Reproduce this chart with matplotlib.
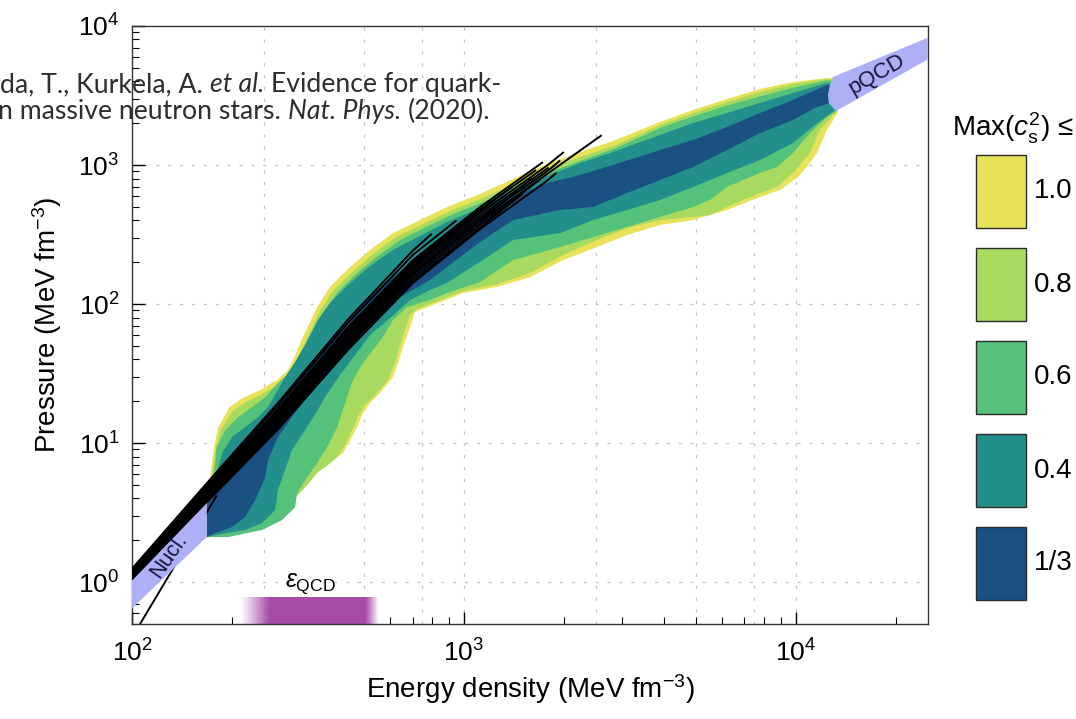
import numpy as np
import matplotlib
matplotlib.use("Agg")
import matplotlib.pyplot as plt
from matplotlib.patches import Rectangle
from matplotlib.colors import to_rgb
from matplotlib.ticker import LogLocator, NullFormatter

plt.rcParams['font.family'] = ['Liberation Sans', 'DejaVu Sans']
plt.rcParams['mathtext.fontset'] = 'custom'
plt.rcParams['mathtext.rm'] = 'Liberation Sans'
plt.rcParams['mathtext.it'] = 'Liberation Sans:italic'
plt.rcParams['mathtext.bf'] = 'Liberation Sans:bold'

# ---- band edges (energy density, pressure) ----
# Max(c_s^2) <= 1.0
yellow_up_eps = [168, 173, 177, 182, 197, 216, 243, 273, 295, 306, 327, 361, 395, 444, 521, 611, 737, 889,
                 1117, 1405, 1778, 2236, 2811, 3894, 4896, 6198, 7791, 9795, 12400, 13380]
yellow_up_p = [3.70, 6.39, 9.67, 13.0, 18.2, 21.1, 24.1, 28.4, 33.5, 39.6, 57.9, 95.1, 133, 176, 245, 324, 402, 499,
               619, 793, 1017, 1240, 1488, 2039, 2487, 2984, 3523, 3955, 4226, 4226]
yellow_lo_eps = [168, 180, 207, 238, 260, 279, 306, 321, 344, 368, 395, 432, 454, 476, 496, 521, 558, 611, 633, 655,
                 688, 712, 790, 993, 1257, 1581, 1987, 2516, 3097, 3894, 4896, 6198, 7791, 8947, 10070, 10790,
                 11570, 12400, 13380]
yellow_lo_p = [2.11, 2.29, 2.29, 2.49, 2.94, 3.14, 3.89, 4.59, 5.42, 6.39, 7.30, 8.48, 10.5, 13.0, 16.4, 19.4, 22.9,
               29.8, 37.6, 49.1, 68.3, 87.6, 96.7, 120, 133, 156, 207, 257, 314, 370, 402, 475, 589, 661, 806, 967,
               1220, 1786, 2406]

# Max(c_s^2) <= 0.8
lgreen_up_eps = [168, 175, 179, 185, 201, 220, 246, 277, 299, 312, 334, 368, 403, 454, 532, 624, 752, 908,
                 1141, 1434, 1816, 2283, 2870, 3894, 4896, 6198, 7791, 9795, 12400, 13380]
lgreen_up_p = [3.70, 6.39, 9.36, 12.4, 17.0, 19.7, 22.5, 26.6, 31.4, 38.3, 55.1, 89.0, 124, 164, 229, 303, 376, 467,
               579, 742, 952, 1161, 1393, 1940, 2366, 2840, 3352, 3825, 4157, 4088]
lgreen_lo_eps = [168, 180, 207, 238, 260, 279, 299, 316, 337, 363, 389, 415, 438, 460, 479, 503, 540, 590, 620, 642,
                 664, 688, 722, 790, 993, 1257, 1581, 1987, 2516, 3097, 3894, 4896, 5508, 6198, 6925, 7791, 8767,
                 9795, 11020, 11810, 13380]
lgreen_lo_p = [2.11, 2.29, 2.29, 2.49, 2.94, 3.14, 3.58, 4.23, 4.99, 6.18, 6.95, 7.93, 9.67, 12.4, 15.4, 18.8, 22.1,
               28.4, 37.6, 50.7, 65.0, 83.3, 92.0, 100, 124, 139, 167, 225, 289, 352, 402, 423, 437, 499, 560, 629,
               695, 876, 1220, 1786, 2487]

# Max(c_s^2) <= 0.6
green_up_eps = [168, 177, 180, 191, 209, 230, 252, 275, 299, 321, 344, 379, 417, 470, 551, 642, 768, 927,
                1165, 1434, 1816, 2283, 2870, 3894, 4896, 6198, 7791, 9795, 12400, 13380]
green_up_p = [3.58, 6.39, 9.36, 12.4, 15.4, 18.2, 21.4, 27.0, 32.4, 43.0, 57.9, 89.0, 122, 162, 222, 289, 358, 444,
              551, 695, 891, 1086, 1325, 1850, 2230, 2680, 3120, 3600, 4060, 4021]
green_lo_eps = [168, 195, 246, 283, 310, 314, 337, 361, 387, 415, 438, 463, 496, 532, 570, 611, 673, 790, 889, 1117,
                1405, 1946, 2447, 3097, 3894, 4896, 5508, 6198, 6925, 7791, 8767, 9795, 11020, 12400, 13380]
green_lo_p = [2.11, 2.11, 2.37, 2.79, 3.46, 4.37, 5.69, 7.18, 9.36, 13.0, 19.4, 28.4, 37.6, 46.7, 57.9, 76.7, 95.1,
              107, 120, 144, 207, 257, 303, 358, 423, 499, 560, 695, 780, 876, 967, 1220, 1699, 2215, 2487]

# Max(c_s^2) <= 0.4
teal_up_eps = [168, 182, 187, 200, 219, 240, 257, 275, 289, 310, 332, 363, 395, 444, 521, 611, 737, 889,
               1117, 1405, 1778, 2236, 2811, 3894, 4896, 6198, 7791, 9795, 12400, 13380]
teal_up_p = [3.58, 6.72, 8.48, 11.05, 13.0, 15.4, 18.2, 24.1, 29.8, 38.3, 50.7, 76.7, 102, 135, 188, 245, 309, 389,
             491, 639, 833, 1034, 1240, 1644, 2006, 2366, 2793, 3296, 3890, 3825]
teal_lo_eps = [168, 191, 219, 246, 270, 275, 289, 303, 332, 363, 381, 423, 470, 521, 599, 688, 790, 889, 1117, 1405,
               1946, 2447, 3097, 3894, 4896, 6198, 7791, 9795, 11410, 13380]
teal_lo_p = [2.11, 2.25, 2.37, 2.66, 3.30, 4.59, 6.39, 8.90, 12.4, 17.3, 21.4, 30.8, 43.0, 59.8, 79.3, 107, 126, 142,
             201, 289, 324, 402, 475, 560, 695, 876, 1086, 1440, 1940, 2571]

# Max(c_s^2) <= 1/3
blue_up_eps = [168, 184, 209, 240, 275, 332, 395, 486, 599, 737, 889, 1117, 1405, 1778, 2236, 2811, 3894, 4896,
               6198, 7791, 9795, 12400, 13380]
blue_up_p = [3.58, 5.42, 9.36, 13.5, 19.4, 33.5, 55.1, 98.4, 149, 225, 314, 437, 589, 742, 847, 1000, 1282, 1513,
             1877, 2366, 2935, 3763, 3701]
blue_lo_eps = [168, 178, 200, 219, 235, 252, 257, 275, 303, 332, 363, 381, 438, 521, 642, 790, 889, 1117, 1405, 1946,
               2447, 3097, 3894, 4896, 6198, 7791, 9795, 11410, 13380]
blue_lo_p = [2.11, 2.25, 2.49, 2.94, 3.89, 5.69, 7.55, 11.05, 15.4, 20.4, 27.0, 29.8, 43.0, 70.6, 112, 149, 185, 279,
             402, 475, 499, 629, 780, 967, 1282, 1699, 2107, 2571, 2935]

legend_labels = ['1.0', '0.8', '0.6', '0.4', '1/3']
band_colors = ['#e8e25a', '#a8da5f', '#55c17a', '#228f8a', '#1b5082']

# ---- individual equations of state (black curves) ----
eos_eps = [
    [100, 168, 279, 444, 702, 1117, 1778, 2600],
    [100, 168, 279, 444, 702, 1117, 1778, 2000],
    [100, 168, 279, 444, 702, 1117, 1778, 1950],
    [100, 168, 279, 444, 702, 1117, 1730],
    [100, 168, 279, 444, 702, 1117, 1600],
    [100, 168, 279, 444, 702, 1117, 1400],
    [100, 168, 279, 444, 702, 950],
    [100, 168, 279, 444, 702, 800],
    [100, 168, 279, 444, 702, 1117, 1500],
    [100, 168, 279, 444, 702, 1117, 1778, 1900],
    [100, 168, 279, 444, 702, 1117, 1800],
    [100, 168, 279, 444, 702, 1000],
    [100, 168, 279, 444, 702, 1117, 1700],
    [100, 168, 279, 444, 702, 1117, 1650],
    [100, 180],
]
eos_p = [
    [1.09, 4.05, 14.6, 52, 162, 390, 860, 1640],
    [1.16, 4.5, 16.6, 60, 186, 450, 990, 1240],
    [1.13, 4.3, 15.6, 56, 173, 412, 900, 1080],
    [1.21, 4.85, 18.2, 67, 207, 498, 1050],
    [1.11, 4.2, 15.2, 54, 167, 395, 800],
    [1.19, 4.65, 17.5, 64, 197, 465, 700],
    [1.23, 5.0, 19.3, 72, 226, 400],
    [1.25, 5.15, 20.2, 76, 243, 320],
    [1.05, 3.85, 13.6, 48, 148, 355, 620],
    [1.03, 3.75, 13.0, 46, 142, 345, 770, 880],
    [1.15, 4.4, 16.2, 58, 180, 430, 960],
    [1.17, 4.55, 17.0, 62, 190, 380],
    [1.07, 3.95, 14.0, 50, 155, 372, 790],
    [1.20, 4.75, 17.8, 65, 202, 480, 920],
    [0.40, 4.2],
]

# ---- nuclear-theory and pQCD bands ----
nucl_eps = [90, 168, 168, 90]
nucl_p = [0.79, 3.70, 2.11, 0.51]
pqcd_eps = [12920, 12660, 12490, 12570, 13200, 30000, 30000]
pqcd_p = [4296, 3763, 3190, 2793, 2446, 7350, 9880]

# energy-density range eps_QCD (faded edges, solid core)
eqcd_fade = (211, 551)
eqcd_solid = (257, 503)
eqcd_p = (0.5, 0.79)

grid_eps = [250, 500, 750, 1000, 2500, 5000, 7500, 10000]
grid_p = [1, 10, 100, 1000]

# ---------------------------------------------------------------
W, H = 1076, 719
fig = plt.figure(figsize=(W / 100, H / 100), dpi=100)
ax = fig.add_axes([132 / W, 1 - 624 / H, (928 - 132) / W, (624 - 26) / H])
ax.set_xscale('log')
ax.set_yscale('log')

for v in grid_eps:
    ax.axvline(v, color='#c4c4c4', lw=0.9, ls=(0, (2.5, 7)), zorder=0.5)
for v in grid_p:
    ax.axhline(v, color='#c4c4c4', lw=0.9, ls=(0, (2.5, 7)), zorder=0.5)

bands = [
    (yellow_up_eps, yellow_up_p, yellow_lo_eps, yellow_lo_p),
    (lgreen_up_eps, lgreen_up_p, lgreen_lo_eps, lgreen_lo_p),
    (green_up_eps, green_up_p, green_lo_eps, green_lo_p),
    (teal_up_eps, teal_up_p, teal_lo_eps, teal_lo_p),
    (blue_up_eps, blue_up_p, blue_lo_eps, blue_lo_p),
]
for i, (eu, pu, el, pl) in enumerate(bands):
    ax.fill(eu + el[::-1], pu + pl[::-1], color=band_colors[i], lw=0, zorder=1 + 0.1 * i)

for e, p in zip(eos_eps, eos_p):
    ax.plot(e, p, color='black', lw=1.4, zorder=3, solid_capstyle='butt')

ax.fill(nucl_eps, nucl_p, color='#aeb0f5', lw=0, zorder=4)
ax.fill(pqcd_eps, pqcd_p, color='#aeb0f5', lw=0, zorder=4)
ax.text(129, 1.55, 'Nucl.', rotation=55, ha='center', va='center', fontsize=15.5,
        color='#15153f', zorder=5, rotation_mode='anchor')
ax.text(17500, 4500, 'pQCD', rotation=30, ha='center', va='center', fontsize=16,
        color='#15153f', zorder=5, rotation_mode='anchor')

# eps_QCD bar
cols = np.linspace(eqcd_fade[0], eqcd_fade[1], 300)
alpha = np.minimum((cols - eqcd_fade[0]) / (eqcd_solid[0] - eqcd_fade[0]),
                   (eqcd_fade[1] - cols) / (eqcd_fade[1] - eqcd_solid[1]))
img = np.zeros((1, cols.size, 4))
img[..., :3] = to_rgb('#a64ca6')
img[..., 3] = np.clip(alpha, 0, 1)
ax.imshow(img, extent=(eqcd_fade[0], eqcd_fade[1], eqcd_p[0], eqcd_p[1]), aspect='auto',
          interpolation='bilinear', zorder=2)
ax.text(345, 0.97, r'$\varepsilon_{\rm QCD}$', ha='center', va='center', fontsize=18, zorder=5)

ax.set_xlim(100, 25000)
ax.set_ylim(0.5, 1e4)

for a in (ax.xaxis, ax.yaxis):
    a.set_major_locator(LogLocator(base=10, numticks=10))
    a.set_minor_locator(LogLocator(base=10, subs=np.arange(2, 10), numticks=30))
    a.set_minor_formatter(NullFormatter())
ax.tick_params(which='both', direction='in', top=False, right=False)
ax.tick_params(which='major', length=9, width=1.0, labelsize=19)
ax.tick_params(axis='x', which='major', pad=11)
ax.tick_params(axis='y', which='major', pad=9)
ax.tick_params(which='minor', length=5, width=0.8)
for s in ax.spines.values():
    s.set_linewidth(1.0)
    s.set_color('#333333')

ax.set_xlabel(r'Energy density (MeV fm$^{-3}$)', fontsize=20, labelpad=4)
ax.set_ylabel(r'Pressure (MeV fm$^{-3}$)', fontsize=20, labelpad=10)

# legend, drawn by hand so the boxes match the original size
fig.text(952 / W, 1 - 128 / H, r'Max($c_{\mathrm{s}}^{2}$) ≤', fontsize=20, ha='left', va='center')
for i, (lab, col) in enumerate(zip(legend_labels, band_colors)):
    top = 155 + 93 * i
    fig.add_artist(Rectangle((976 / W, 1 - (top + 73) / H), 50 / W, 73 / H, transform=fig.transFigure,
                             facecolor=col, edgecolor='#2b2b2b', linewidth=1.0))
    fig.text(1034 / W, 1 - (top + 36.5) / H, lab, fontsize=20, ha='left', va='center')

# citation overlay
renderer = fig.canvas.get_renderer()
CITE_FS = 19.2
probe_a = fig.text(0, 0, 'aa', fontsize=CITE_FS, family=['Lato'])
probe_b = fig.text(0, 0, 'a a', fontsize=CITE_FS, family=['Lato'])
space = (probe_b.get_window_extent(renderer).width - probe_a.get_window_extent(renderer).width) / fig.bbox.width
probe_a.remove()
probe_b.remove()


def cite_line(pieces, x, y):
    for txt, style in pieces:
        t = fig.text(x, y, txt, fontsize=CITE_FS, fontstyle=style, family=['Lato', 'DejaVu Sans'],
                     color='#2e2e2e', va='baseline', ha='left', zorder=10)
        bb = t.get_window_extent(renderer=renderer)
        x += bb.width / fig.bbox.width + space


cite_line([('da, T., Kurkela, A.', 'normal'), ('et al.', 'italic'), ('Evidence for quark-', 'normal')],
          0.0, 1 - 92 / H)
cite_line([('n massive neutron stars.', 'normal'), ('Nat. Phys.', 'italic'), ('(2020).', 'normal')],
          -0.002, 1 - 119 / H)

fig.savefig('out.png', dpi=100)
